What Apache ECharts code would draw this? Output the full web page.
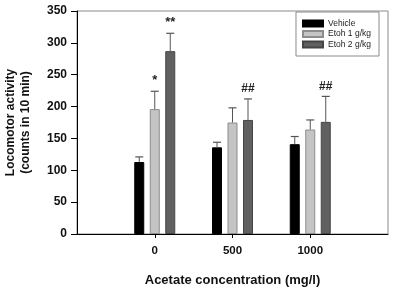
<!DOCTYPE html>
<html>
<head>
<meta charset="utf-8">
<script src="https://cdn.jsdelivr.net/npm/echarts@6/dist/echarts.min.js"></script>
<style>
  html, body { margin: 0; padding: 0; background: #fff; }
  #chart { width: 397px; height: 292px; }
</style>
</head>
<body>
<div id="chart"></div>
<script>
// padded so the groups sit on ticks 1..3 of a 0..4 axis
const categorias = ["", "0", "500", "1000", ""];
const nombresSeries = ["Vehicle", "Etoh 1 g/kg", "Etoh 2 g/kg"];
const vehicle = [null, 113, 136, 141, null];
const etoh1 = [null, 196, 175, 164, null];
const etoh2 = [null, 287, 179, 176, null];
const errVehicle = [null, 8, 8, 12, null];
const errEtoh1 = [null, 28, 23, 15, null];
const errEtoh2 = [null, 28, 33, 40, null];
const marcasEtoh1 = ["", "*", "", "", ""];
const marcasEtoh2 = ["", "**", "##", "##", ""];
const yTicks = [0, 50, 100, 150, 200, 250, 300, 350];

const colores = ["#000000", "#c4c4c4", "#606060"];
const bordes = ["#000000", "#8c8c8c", "#454545"];
const valores = [vehicle, etoh1, etoh2];
const errores = [errVehicle, errEtoh1, errEtoh2];
const marcas = [["", "", "", "", ""], marcasEtoh1, marcasEtoh2];

const anchoBarra = 10;
const pasoBarra = 15.5;
const fuente = "Liberation Sans, Arial, sans-serif";

var dom = document.getElementById("chart");
var myChart = echarts.init(dom, null, { renderer: "canvas" });

function serieError(sid) {
  const datos = [];
  for (let i = 0; i < categorias.length; i++) {
    if (valores[sid][i] == null) continue;
    datos.push([i, valores[sid][i], errores[sid][i], marcas[sid][i]]);
  }
  return {
    type: "custom",
    name: nombresSeries[sid] + " err",
    z: 5,
    silent: true,
    renderItem: function (params, api) {
      const x = api.value(0);
      const v = api.value(1);
      const e = api.value(2);
      const marca = datos[params.dataIndex][3];
      const base = api.coord([x, v]);
      const tope = api.coord([x, v + e]);
      const cx = base[0] + (sid - 1) * pasoBarra;
      const hijos = [
        { type: "line", shape: { x1: cx, y1: base[1], x2: cx, y2: tope[1] }, style: { stroke: "#555", lineWidth: 1 } },
        { type: "line", shape: { x1: cx - 4, y1: tope[1], x2: cx + 4, y2: tope[1] }, style: { stroke: "#555", lineWidth: 1.2 } },
      ];
      if (marca) {
        hijos.push({
          type: "text",
          style: {
            text: marca,
            x: cx,
            y: tope[1] - 4,
            align: "center",
            verticalAlign: "bottom",
            fill: "#222",
            font: (marca[0] === "#" ? "bold 12px " : "bold 13px ") + fuente,
          },
        });
      }
      return { type: "group", children: hijos };
    },
    data: datos,
  };
}

const series = nombresSeries.map((name, sid) => ({
  name,
  type: "bar",
  barWidth: anchoBarra,
  barGap: "55%",
  itemStyle: { color: colores[sid], borderColor: bordes[sid], borderWidth: 1 },
  data: valores[sid],
}));

var option = {
  animation: false,
  grid: {
    left: 77,
    right: 9,
    top: 11,
    bottom: 58,
    outerBoundsMode: "none",
    containLabel: false,
    show: true,
    borderColor: "#8a8a8a",
    borderWidth: 1,
  },
  legend: {
    data: nombresSeries,
    orient: "vertical",
    right: 18,
    top: 12,
    padding: [7, 8, 7, 6],
    itemGap: 1.5,
    itemWidth: 20,
    itemHeight: 6,
    borderColor: "#8a8a8a",
    borderWidth: 1,
    icon: "rect",
    textStyle: { fontSize: 8.5, color: "#222", fontFamily: fuente },
  },
  xAxis: {
    type: "category",
    data: categorias,
    boundaryGap: false,
    name: "Acetate concentration (mg/l)",
    nameLocation: "middle",
    nameGap: 40,
    nameTextStyle: { fontSize: 13, fontWeight: "bold", color: "#111", fontFamily: fuente },
    axisLine: { lineStyle: { color: "#000", width: 1 } },
    axisTick: { length: 4, lineStyle: { color: "#000" }, interval: (i) => i > 0 && i < 4 },
    axisLabel: { margin: 11, fontSize: 11.5, fontWeight: "bold", color: "#111", fontFamily: fuente, interval: 0 },
    splitLine: { show: false },
  },
  yAxis: {
    type: "value",
    min: yTicks[0],
    max: yTicks[yTicks.length - 1],
    interval: 50,
    name: "Locomotor activity\n(counts in 10 min)",
    nameLocation: "middle",
    nameGap: 44,
    nameTextStyle: { fontSize: 12, fontWeight: "bold", color: "#111", fontFamily: fuente, lineHeight: 15 },
    axisLine: { show: true, lineStyle: { color: "#000", width: 1 } },
    axisTick: { show: true, length: 6, lineStyle: { color: "#000" } },
    axisLabel: { margin: 10, fontSize: 12, fontWeight: "bold", color: "#111", fontFamily: fuente },
    splitLine: { show: false },
  },
  series: series.concat([serieError(0), serieError(1), serieError(2)]),
};

myChart.setOption(option);
window.addEventListener("resize", myChart.resize);
</script>
</body>
</html>
